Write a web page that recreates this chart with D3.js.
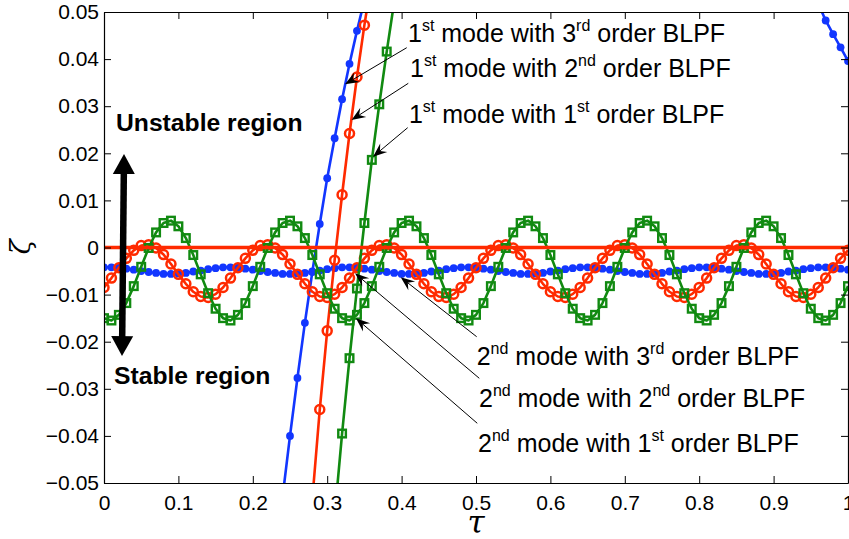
<!DOCTYPE html>
<html><head><meta charset="utf-8">
<script src="https://cdn.jsdelivr.net/npm/d3@7"></script>
<style>body{margin:0;background:#fff}svg text{white-space:pre}</style>
</head><body>
<svg id="c" width="849" height="539"></svg>
<script>
// ---------- DATA ----------
const xTicks = [0,0.1,0.2,0.3,0.4,0.5,0.6,0.7,0.8,0.9,1];
const xTickLabels = ["0","0.1","0.2","0.3","0.4","0.5","0.6","0.7","0.8","0.9","1"];
const yTicks = [-0.05,-0.04,-0.03,-0.02,-0.01,0,0.01,0.02,0.03,0.04,0.05];
const yTickLabels = ["\u22120.05","\u22120.04","\u22120.03","\u22120.02","\u22120.01","0","0.01","0.02","0.03","0.04","0.05"];

// second mode, sampled tau
const tau2 = [0,0.01,0.02,0.03,0.04,0.05,0.06,0.07,0.08,0.09,
0.1,0.11,0.12,0.13,0.14,0.15,0.16,0.17,0.18,0.19,
0.2,0.21,0.22,0.23,0.24,0.25,0.26,0.27,0.28,0.29,
0.3,0.31,0.32,0.33,0.34,0.35,0.36,0.37,0.38,0.39,
0.4,0.41,0.42,0.43,0.44,0.45,0.46,0.47,0.48,0.49,
0.5,0.51,0.52,0.53,0.54,0.55,0.56,0.57,0.58,0.59,
0.6,0.61,0.62,0.63,0.64,0.65,0.66,0.67,0.68,0.69,
0.7,0.71,0.72,0.73,0.74,0.75,0.76,0.77,0.78,0.79,
0.8,0.81,0.82,0.83,0.84,0.85,0.86,0.87,0.88,0.89,
0.9,0.91,0.92,0.93,0.94,0.95,0.96,0.97,0.98,0.99,1];

// 2nd mode with 3rd order BLPF (blue)
const mode2Order3 = [
-0.0042,-0.0042,-0.0043,-0.0045,-0.0047,-0.0050,-0.0052,-0.0054,-0.0056,-0.0056,-0.0055,-0.0054,-0.0051,-0.0049,-0.0046,-0.0044,
-0.0042,-0.0042,-0.0043,-0.0045,-0.0047,-0.0050,-0.0052,-0.0054,-0.0056,-0.0056,-0.0055,-0.0054,-0.0051,-0.0049,-0.0046,-0.0044,
-0.0042,-0.0042,-0.0043,-0.0045,-0.0047,-0.0050,-0.0052,-0.0054,-0.0056,-0.0056,-0.0055,-0.0054,-0.0051,-0.0049,-0.0046,-0.0044,
-0.0042,-0.0042,-0.0043,-0.0045,-0.0047,-0.0050,-0.0052,-0.0054,-0.0056,-0.0056,-0.0055,-0.0054,-0.0051,-0.0049,-0.0046,-0.0044,
-0.0042,-0.0042,-0.0043,-0.0045,-0.0047,-0.0050,-0.0052,-0.0054,-0.0056,-0.0056,-0.0055,-0.0054,-0.0051,-0.0049,-0.0046,-0.0044,
-0.0042,-0.0042,-0.0043,-0.0045,-0.0047,-0.0050,-0.0052,-0.0054,-0.0056,-0.0056,-0.0055,-0.0054,-0.0051,-0.0049,-0.0046,-0.0044,
-0.0042,-0.0042,-0.0043,-0.0045,-0.0047];

// 2nd mode with 2nd order BLPF (red)
const mode2Order2 = [
-0.0085,-0.0065,-0.0043,-0.0023,-0.0006,0.0004,0.0006,-0.0001,-0.0015,-0.0035,-0.0057,-0.0077,-0.0094,-0.0104,-0.0106,-0.0099,
-0.0085,-0.0065,-0.0043,-0.0023,-0.0006,0.0004,0.0006,-0.0001,-0.0015,-0.0035,-0.0057,-0.0077,-0.0094,-0.0104,-0.0106,-0.0099,
-0.0085,-0.0065,-0.0043,-0.0023,-0.0006,0.0004,0.0006,-0.0001,-0.0015,-0.0035,-0.0057,-0.0077,-0.0094,-0.0104,-0.0106,-0.0099,
-0.0085,-0.0065,-0.0043,-0.0023,-0.0006,0.0004,0.0006,-0.0001,-0.0015,-0.0035,-0.0057,-0.0077,-0.0094,-0.0104,-0.0106,-0.0099,
-0.0085,-0.0065,-0.0043,-0.0023,-0.0006,0.0004,0.0006,-0.0001,-0.0015,-0.0035,-0.0057,-0.0077,-0.0094,-0.0104,-0.0106,-0.0099,
-0.0085,-0.0065,-0.0043,-0.0023,-0.0006,0.0004,0.0006,-0.0001,-0.0015,-0.0035,-0.0057,-0.0077,-0.0094,-0.0104,-0.0106,-0.0099,
-0.0085,-0.0065,-0.0043,-0.0023,-0.0006];

// 2nd mode with 1st order BLPF (green)
const mode2Order1 = [
-0.0150,-0.0155,-0.0143,-0.0118,-0.0082,-0.0041,-0.0001,0.0032,0.0052,0.0057,0.0045,0.0020,-0.0016,-0.0057,-0.0097,-0.0130,
-0.0150,-0.0155,-0.0143,-0.0118,-0.0082,-0.0041,-0.0001,0.0032,0.0052,0.0057,0.0045,0.0020,-0.0016,-0.0057,-0.0097,-0.0130,
-0.0150,-0.0155,-0.0143,-0.0118,-0.0082,-0.0041,-0.0001,0.0032,0.0052,0.0057,0.0045,0.0020,-0.0016,-0.0057,-0.0097,-0.0130,
-0.0150,-0.0155,-0.0143,-0.0118,-0.0082,-0.0041,-0.0001,0.0032,0.0052,0.0057,0.0045,0.0020,-0.0016,-0.0057,-0.0097,-0.0130,
-0.0150,-0.0155,-0.0143,-0.0118,-0.0082,-0.0041,-0.0001,0.0032,0.0052,0.0057,0.0045,0.0020,-0.0016,-0.0057,-0.0097,-0.0130,
-0.0150,-0.0155,-0.0143,-0.0118,-0.0082,-0.0041,-0.0001,0.0032,0.0052,0.0057,0.0045,0.0020,-0.0016,-0.0057,-0.0097,-0.0130,
-0.0150,-0.0155,-0.0143,-0.0118,-0.0082];

// first mode curves (null = gap above the visible range)
const tau1Order3 = [0.24,0.25,0.26,0.27,0.28,0.29,0.30,0.31,0.32,0.33,0.34,0.35,0.36,0.96,0.97,0.98,0.99,1.00];
const mode1Order3 = [-0.0530,-0.0400,-0.0277,-0.0160,-0.0052,0.0050,0.0147,0.0232,0.0315,0.0390,0.0460,0.0525,null,0.0518,0.0482,0.0453,0.0425,0.0396];
const tau1Order2 = [0.28,0.29,0.30,0.31,0.32,0.33,0.34,0.35,0.36];
const mode1Order2 = [-0.0535,-0.0344,-0.0177,-0.0027,0.0112,0.0242,0.0362,0.0472,0.0572];
const tau1Order1 = [0.31,0.32,0.33,0.34,0.35,0.36,0.37,0.38,0.39];
const mode1Order1 = [-0.0570,-0.0395,-0.0235,-0.0087,0.0052,0.0186,0.0304,0.0416,0.0521];

const zeroLine = [[0,0],[1,0]];

// annotation labels: mode, mode suffix, order, order suffix
const annModes   = ["1","1","1","2","2","2"];
const annModeSup = ["st","st","st","nd","nd","nd"];
const annOrders  = ["3","2","1","3","2","1"];
const annOrdSup  = ["rd","nd","st","rd","nd","st"];
// label anchor (tau, zeta), arrow tail and arrow tip (tau, zeta)
const annLabelAt = [[0.4086,0.04363],[0.4113,0.03614],[0.4099,0.02650],[0.5009,-0.02495],[0.5040,-0.03397],[0.5027,-0.04352]];
const annTail    = [[0.4069,0.04242],[0.4090,0.03486],[0.4082,0.02544],[0.5009,-0.01894],[0.5044,-0.02777],[0.5017,-0.03732]];
const annTip     = [[0.3239,0.03465],[0.3327,0.02707],[0.3616,0.01928],[0.3988,-0.00633],[0.3374,-0.00548],[0.3387,-0.01503]];

const regionText = ["Unstable region","Stable region"];
const regionAt = [[0.0161,0.02473],[0.0134,-0.02904]];
const bigArrow = [[0.0269,0.01985],[0.0242,-0.02304]];

// ---------- CHART ----------
const FONT = "'Liberation Sans', Arial, Helvetica, sans-serif";
const BLUE = "#1236ff", RED = "#ff2a00", GREEN = "#118a11";
const svg = d3.select("#c");
const x = d3.scaleLinear().domain([0,1]).range([104,848]);
const y = d3.scaleLinear().domain([-0.05,0.05]).range([483,12]);

svg.append("defs").append("clipPath").attr("id","clip")
  .append("rect").attr("x",104).attr("y",12).attr("width",744).attr("height",471);

const plot = svg.append("g").attr("clip-path","url(#clip)");
const line = d3.line().defined(d => d[1] != null).x(d => x(d[0])).y(d => y(d[1]));
const zip = (t, v) => t.map((tt,i) => [tt, v[i]]);

function drawSeries(pts, color, marker) {
  plot.append("path").datum(pts).attr("d", line)
    .attr("fill","none").attr("stroke",color).attr("stroke-width",2.6).attr("stroke-linejoin","round");
  const p = pts.filter(d => d[1] != null);
  if (marker === "dot") {
    plot.append("g").selectAll("circle").data(p).join("circle")
      .attr("cx", d => x(d[0])).attr("cy", d => y(d[1])).attr("r",3.9).attr("fill",color);
  } else if (marker === "circle") {
    plot.append("g").selectAll("circle").data(p).join("circle")
      .attr("cx", d => x(d[0])).attr("cy", d => y(d[1])).attr("r",4.5)
      .attr("fill","none").attr("stroke",color).attr("stroke-width",2.5);
  } else if (marker === "square") {
    plot.append("g").selectAll("rect").data(p).join("rect")
      .attr("x", d => x(d[0]) - 3.8).attr("y", d => y(d[1]) - 3.8).attr("width",7.6).attr("height",7.6)
      .attr("fill","none").attr("stroke",color).attr("stroke-width",2.4);
  }
}

drawSeries(zip(tau2, mode2Order3), BLUE, "dot");
drawSeries(zip(tau1Order3, mode1Order3), BLUE, "dot");
drawSeries(zip(tau2, mode2Order2), RED, "circle");
drawSeries(zip(tau1Order2, mode1Order2), RED, "circle");
drawSeries(zip(tau2, mode2Order1), GREEN, "square");
drawSeries(zip(tau1Order1, mode1Order1), GREEN, "square");
plot.append("path").datum(zeroLine).attr("d", line).attr("stroke",RED).attr("stroke-width",3.6).attr("fill","none");

// ---------- AXES ----------
function styleAxis(g) {
  g.select(".domain").attr("stroke","#000").attr("stroke-width",1.2);
  g.selectAll(".tick line").attr("stroke","#000").attr("stroke-width",1);
  g.selectAll(".tick text").attr("fill","#000").style("font-family",FONT).style("font-size","21px");
}
svg.append("g").attr("transform","translate(0,483)")
  .call(d3.axisBottom(x).tickValues(xTicks).tickFormat((d,i) => xTickLabels[i]).tickSizeInner(-7).tickSizeOuter(0).tickPadding(12))
  .call(styleAxis);
svg.append("g").attr("transform","translate(0,12)")
  .call(d3.axisTop(x).tickValues(xTicks).tickFormat(() => "").tickSizeInner(-7).tickSizeOuter(0))
  .call(styleAxis);
svg.append("g").attr("transform","translate(104,0)")
  .call(d3.axisLeft(y).tickValues(yTicks).tickFormat((d,i) => yTickLabels[i]).tickSizeInner(-7).tickSizeOuter(0).tickPadding(5))
  .call(styleAxis);
svg.append("g").attr("transform","translate(848,0)")
  .call(d3.axisRight(y).tickValues(yTicks).tickFormat(() => "").tickSizeInner(-7).tickSizeOuter(0))
  .call(styleAxis);

// axis titles
svg.append("text").attr("x",476).attr("y",533).attr("text-anchor","middle")
  .style("font-family","'DejaVu Serif', serif").style("font-style","italic").style("font-size","31px").text("\u03c4");
svg.append("text").attr("transform","translate(30,247) rotate(-90)").attr("text-anchor","middle")
  .style("font-family","'DejaVu Serif', serif").style("font-style","italic").style("font-size","28px").text("\u03b6");

// ---------- ANNOTATIONS ----------
const ann = svg.append("g");
function thinArrow(tail, tip) {
  const x1 = x(tail[0]), y1 = y(tail[1]), x2 = x(tip[0]), y2 = y(tip[1]);
  const dx = x2 - x1, dy = y2 - y1, len = Math.hypot(dx, dy);
  const ux = dx/len, uy = dy/len, nx = -uy, ny = ux;
  const L = 14, Wd = 5.5, N = 9;
  ann.append("line").attr("x1",x1).attr("y1",y1).attr("x2",x2 - ux*N).attr("y2",y2 - uy*N)
    .attr("stroke","#000").attr("stroke-width",1);
  const pts = [[x2,y2],[x2 - ux*L + nx*Wd, y2 - uy*L + ny*Wd],[x2 - ux*N, y2 - uy*N],[x2 - ux*L - nx*Wd, y2 - uy*L - ny*Wd]];
  ann.append("path").attr("d","M" + pts.map(p => p.join(",")).join("L") + "Z").attr("fill","#000");
}
annModes.forEach((m, i) => {
  thinArrow(annTail[i], annTip[i]);
  const t = ann.append("text").attr("x", x(annLabelAt[i][0])).attr("y", y(annLabelAt[i][1]))
    .style("font-family",FONT).style("font-size","25px").attr("fill","#000");
  t.append("tspan").text(m);
  t.append("tspan").attr("dy",-11).style("font-size","16px").text(annModeSup[i]);
  t.append("tspan").attr("dy",11).text(" mode with " + annOrders[i]);
  t.append("tspan").attr("dy",-11).style("font-size","16px").text(annOrdSup[i]);
  t.append("tspan").attr("dy",11).text(" order BLPF");
});

regionText.forEach((s, i) => {
  ann.append("text").attr("x", x(regionAt[i][0])).attr("y", y(regionAt[i][1]))
    .style("font-family",FONT).style("font-weight","bold").style("font-size","24.7px").attr("fill","#000").text(s);
});

// big double-headed arrow
(function() {
  const a = [x(bigArrow[0][0]), y(bigArrow[0][1])], b = [x(bigArrow[1][0]), y(bigArrow[1][1])];
  const dx = b[0]-a[0], dy = b[1]-a[1], len = Math.hypot(dx,dy);
  const ux = dx/len, uy = dy/len, nx = -uy, ny = ux;
  const L = 20, Wd = 11;
  ann.append("line").attr("x1", a[0] + ux*(L-2)).attr("y1", a[1] + uy*(L-2))
    .attr("x2", b[0] - ux*(L-2)).attr("y2", b[1] - uy*(L-2)).attr("stroke","#000").attr("stroke-width",6.5);
  const head = (tip, s) => {
    const bx = tip[0] + s*ux*L, by = tip[1] + s*uy*L;
    return "M" + tip.join(",") + "L" + (bx + nx*Wd) + "," + (by + ny*Wd) + "L" + (bx - nx*Wd) + "," + (by - ny*Wd) + "Z";
  };
  ann.append("path").attr("d", head(a, 1)).attr("fill","#000");
  ann.append("path").attr("d", head(b, -1)).attr("fill","#000");
})();
</script>
</body></html>
